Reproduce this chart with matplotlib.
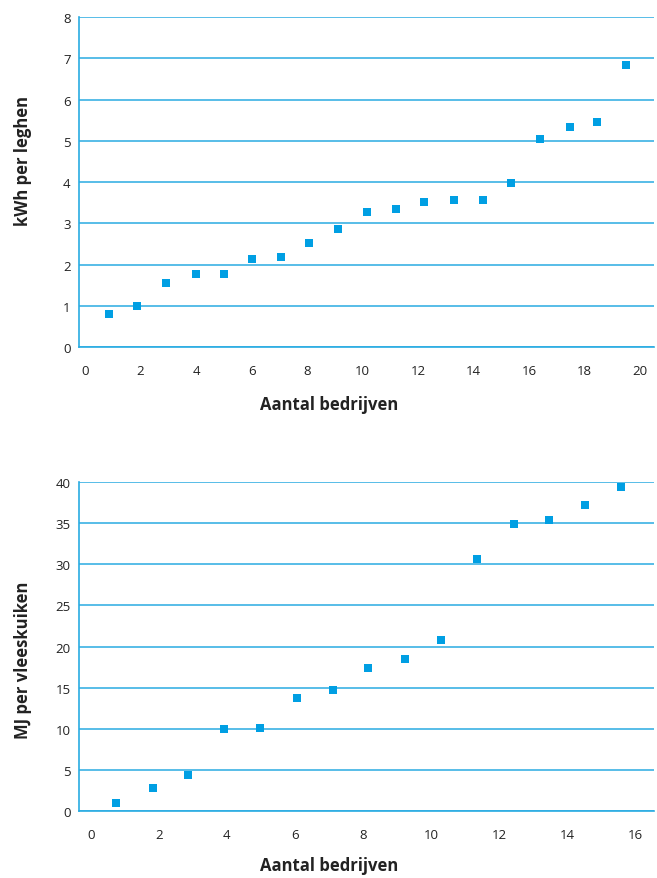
import matplotlib.pyplot as plt

# Bovenste grafiek: elektriciteit per leghen
leg_x = [0.86, 1.87, 2.92, 4.0, 5.0, 6.02, 7.06, 8.07, 9.12, 10.16,
         11.2, 12.2, 13.3, 14.34, 15.35, 16.4, 17.48, 18.45, 19.5]
leg_y = [0.8, 0.99, 1.55, 1.77, 1.77, 2.13, 2.18, 2.52, 2.86, 3.27,
         3.35, 3.52, 3.56, 3.56, 3.98, 5.04, 5.33, 5.45, 6.84]

# Onderste grafiek: energie per vleeskuiken
vk_x = [0.74, 1.82, 2.85, 3.91, 4.97, 6.06, 7.12, 8.15, 9.24, 10.29,
        11.35, 12.44, 13.47, 14.53, 15.59]
vk_y = [0.97, 2.8, 4.38, 9.97, 10.09, 13.74, 14.71, 17.39, 18.48, 20.79,
        30.64, 34.9, 35.4, 37.2, 39.4]

top_xticks = list(range(0, 21, 2))
top_yticks = list(range(0, 9))
bot_xticks = list(range(0, 17, 2))
bot_yticks = list(range(0, 41, 5))

MARK = "#009fe3"
GRID = "#29abe2"
TXT = "#222222"

plt.rcParams["font.family"] = ["Open Sans", "DejaVu Sans"]

fig = plt.figure(figsize=(6.57, 8.79), dpi=100)
ax1 = fig.add_axes([0.1202, 0.6041, 0.8752, 0.3754])
ax2 = fig.add_axes([0.1202, 0.0762, 0.8752, 0.3743])


def style(ax, xticks, yticks, xlim, ylim):
    ax.set_xlim(*xlim)
    ax.set_ylim(*ylim)
    ax.set_xticks(xticks)
    ax.set_yticks(yticks)
    for s in ["top", "right"]:
        ax.spines[s].set_visible(False)
    for s in ["left", "bottom"]:
        ax.spines[s].set_color(GRID)
        ax.spines[s].set_linewidth(1.2)
    ax.yaxis.grid(True, color=GRID, lw=1.1)
    ax.set_axisbelow(True)
    ax.tick_params(axis="both", length=0, labelsize=9.5, colors=TXT)
    ax.tick_params(axis="x", pad=12)
    ax.tick_params(axis="y", pad=6)


ax1.scatter(leg_x, leg_y, marker="s", s=40, color=MARK, zorder=3, lw=0)
style(ax1, top_xticks, top_yticks, (-0.22, 20.5), (0, 8))

ax2.scatter(vk_x, vk_y, marker="s", s=40, color=MARK, zorder=3, lw=0)
style(ax2, bot_xticks, bot_yticks, (-0.35, 16.56), (0, 40))

fig.text(0.035, 1 - 161 / 879, "kWh per leghen", rotation=90, ha="center",
         va="center", fontsize=12, fontweight="bold", color=TXT)
fig.text(0.035, 1 - 660 / 879, "MJ per vleeskuiken", rotation=90, ha="center",
         va="center", fontsize=12, fontweight="bold", color=TXT)
fig.text(329 / 657, 1 - 405 / 879, "Aantal bedrijven", ha="center",
         va="center", fontsize=12, fontweight="bold", color=TXT)
fig.text(329 / 657, 1 - 866 / 879, "Aantal bedrijven", ha="center",
         va="center", fontsize=12, fontweight="bold", color=TXT)

fig.savefig("out.png", dpi=100)
plt.close(fig)
